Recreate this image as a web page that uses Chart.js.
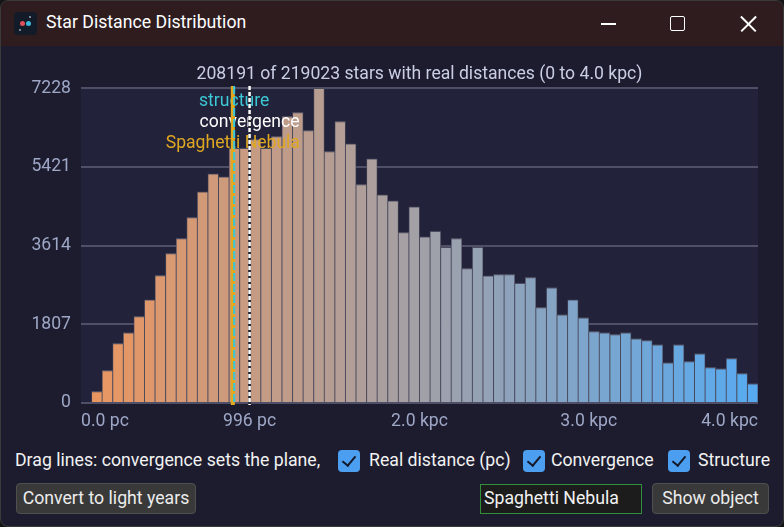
<!DOCTYPE html>
<html>
<head>
<meta charset="utf-8">
<title>Star Distance Distribution</title>
<script src="https://cdn.jsdelivr.net/npm/chart.js@4.4.0/dist/chart.umd.min.js"></script>
<style>
    html, body { margin: 0; padding: 0; background: #141414; }
    body { width: 784px; height: 527px; overflow: hidden; font-family: Roboto, "Noto Sans", sans-serif; }
    .window { position: absolute; left: 0; top: 0; width: 782px; height: 525px; border: 1px solid #3a3a3a; border-radius: 8px; background: #1d1c2e; overflow: hidden; }
    .titlebar { position: absolute; left: 0; top: 0; right: 0; height: 45px; background: #2e1c1f; }
    .app-icon { position: absolute; left: 13px; top: 11px; width: 23px; height: 23px; border-radius: 4px; background: #131a28; }
    .app-icon i { position: absolute; width: 5px; height: 5px; border-radius: 50%; }
    .win-title { position: absolute; left: 45px; top: 11px; color: #ffffff; font-size: 17.7px; }
    .cap-min { position: absolute; left: 600px; top: 22px; width: 15px; height: 1.5px; background: #fff; }
    .cap-max { position: absolute; left: 669px; top: 15px; width: 13px; height: 13px; border: 1.5px solid #fff; border-radius: 2px; }
    .cap-close { position: absolute; left: 739px; top: 14px; width: 17px; height: 17px; }
    .cap-close::before, .cap-close::after { content: ""; position: absolute; left: -2px; top: 8px; width: 21px; height: 1.5px; background: #fff; }
    .cap-close::before { transform: rotate(45deg); }
    .cap-close::after { transform: rotate(-45deg); }
    #chartBox { position: absolute; left: 0; top: 45px; width: 784px; height: 400px; }
    .row1 { position: absolute; top: 449px; left: 0; height: 22px; color: #f2f2f2; font-size: 17.7px; }
    .row1 span { position: absolute; top: 0; white-space: nowrap; }
    .check { position: absolute; top: 0; width: 22px; height: 22px; border-radius: 4px; background: #4c9ff0; }
    .check::after { content: ""; position: absolute; left: 7px; top: 3px; width: 6px; height: 11px; border: solid #14182a; border-width: 0 2px 2px 0; transform: rotate(40deg); }
    .btn { position: absolute; top: 482px; height: 31px; background: #393939; border: 1px solid #4f4f4f; border-radius: 4px; color: #ececec; font-size: 17.7px; line-height: 29px; text-align: center; box-sizing: border-box; white-space: nowrap; }
    .field { position: absolute; left: 479px; top: 483px; width: 162px; height: 30px; border: 1.5px solid #2f8f3a; background: #1c1c1c; color: #f2f2f2; font-size: 17.7px; line-height: 27px; padding-left: 3px; box-sizing: border-box; white-space: nowrap; }
</style>
</head>
<body>
<div class="window">
    <div class="titlebar">
        <div class="app-icon"><i style="left:6px;top:9px;background:#e0505a"></i><i style="left:12px;top:9px;background:#3ab8d8"></i><i style="left:15px;top:4px;width:2px;height:2px;background:#9ab"></i><i style="left:5px;top:17px;width:2px;height:2px;background:#9ab"></i></div>
        <div class="win-title">Star Distance Distribution</div>
        <div class="cap-min"></div>
        <div class="cap-max"></div>
        <div class="cap-close"></div>
    </div>
    <div id="chartBox"><canvas id="distanceChart"></canvas></div>
    <div class="row1">
        <span style="left:14px">Drag lines: convergence sets the plane,</span>
        <div class="check" style="left:337px"></div><span style="left:368px">Real distance (pc)</span>
        <div class="check" style="left:522px"></div><span style="left:550px">Convergence</span>
        <div class="check" style="left:667px"></div><span style="left:697px">Structure</span>
    </div>
    <div class="btn" style="left:15px;width:180px">Convert to light years</div>
    <div class="field">Spaghetti Nebula</div>
    <div class="btn" style="left:651px;width:117px">Show object</div>
</div>

<script>
// Histogram bins (centre of each 62.5 pc bin) and star counts
const binCentersPc = [
    31.25, 93.75, 156.25, 218.75, 281.25, 343.75, 406.25, 468.75,
    531.25, 593.75, 656.25, 718.75, 781.25, 843.75, 906.25, 968.75,
    1031.25, 1093.75, 1156.25, 1218.75, 1281.25, 1343.75, 1406.25, 1468.75,
    1531.25, 1593.75, 1656.25, 1718.75, 1781.25, 1843.75, 1906.25, 1968.75,
    2031.25, 2093.75, 2156.25, 2218.75, 2281.25, 2343.75, 2406.25, 2468.75,
    2531.25, 2593.75, 2656.25, 2718.75, 2781.25, 2843.75, 2906.25, 2968.75,
    3031.25, 3093.75, 3156.25, 3218.75, 3281.25, 3343.75, 3406.25, 3468.75,
    3531.25, 3593.75, 3656.25, 3718.75, 3781.25, 3843.75, 3906.25, 3968.75
];
const starCounts = [
    0, 268, 750, 1369, 1614, 1989, 2371, 2930,
    3435, 3779, 4261, 4850, 5263, 5194, 5852, 5852,
    6050, 5852, 6119, 6578, 6670, 6257, 7228, 5775,
    6463, 5951, 5018, 5607, 4781, 4643, 3916, 4505,
    3817, 3947, 3580, 3779, 3090, 3580, 2922, 2953,
    2953, 2754, 2884, 2195, 2647, 2027, 2371, 1958,
    1645, 1614, 1576, 1614, 1476, 1438, 1339, 926,
    1339, 956, 1132, 818, 788, 1025, 681, 444
];
const xTickValues = [0, 996, 2000, 3000, 4000];
const xTickLabels = ['0.0 pc', '996 pc', '2.0 kpc', '3.0 kpc', '4.0 kpc'];
const yTickValues = [0, 1807, 3614, 5421, 7228];

// Draggable markers (distance in pc)
const markerNames = ['Spaghetti Nebula', 'structure', 'convergence'];
const markerDistancesPc = [897, 905, 996];

const FONT = 'Roboto, "Noto Sans", sans-serif';
const FONT_SIZE = 17.6;

function barColor(index, count) {
    // orange (near) -> blue (far)
    const t = index / (count - 1);
    const from = [236, 150, 94];
    const to = [88, 170, 240];
    const c = from.map((v, k) => Math.round(v + (to[k] - v) * t));
    return `rgb(${c[0]}, ${c[1]}, ${c[2]})`;
}

const plotBackground = {
    id: 'plotBackground',
    beforeDraw(chart) {
        const { ctx, chartArea } = chart;
        ctx.save();
        ctx.fillStyle = '#22223a';
        ctx.fillRect(chartArea.left, chartArea.top, chartArea.right - chartArea.left, chartArea.bottom - chartArea.top);
        ctx.restore();
    }
};

const markerLines = {
    id: 'markerLines',
    afterDraw(chart) {
        const { ctx, chartArea, scales } = chart;
        const px = markerDistancesPc.map(v => scales.x.getPixelForValue(v));
        const top = chartArea.top - 2;
        const bottom = chartArea.bottom + 2;

        ctx.save();
        ctx.font = `${FONT_SIZE}px ${FONT}`;
        ctx.textAlign = 'center';
        ctx.textBaseline = 'middle';
        ctx.fillStyle = '#3cc8d4';
        ctx.fillText(markerNames[1], px[1], chartArea.top + 13);
        ctx.fillStyle = '#ffffff';
        ctx.fillText(markerNames[2], px[2], chartArea.top + 34);
        ctx.fillStyle = '#e0a820';
        ctx.fillText(markerNames[0], px[0], chartArea.top + 55);

        // object line
        ctx.strokeStyle = '#e2a91e';
        ctx.lineWidth = 4;
        ctx.beginPath();
        ctx.moveTo(px[0], top);
        ctx.lineTo(px[0], bottom);
        ctx.stroke();

        // structure line
        ctx.strokeStyle = '#38c6d8';
        ctx.lineWidth = 2;
        ctx.setLineDash([8, 3]);
        ctx.beginPath();
        ctx.moveTo(px[1], top);
        ctx.lineTo(px[1], bottom);
        ctx.stroke();

        // convergence line
        ctx.setLineDash([]);
        ctx.strokeStyle = '#2a2a36';
        ctx.lineWidth = 3;
        ctx.beginPath();
        ctx.moveTo(px[2], top);
        ctx.lineTo(px[2], bottom);
        ctx.stroke();
        ctx.strokeStyle = '#ffffff';
        ctx.lineWidth = 2.5;
        ctx.setLineDash([4, 2]);
        ctx.beginPath();
        ctx.moveTo(px[2], top);
        ctx.lineTo(px[2], bottom);
        ctx.stroke();
        ctx.restore();
    }
};

document.addEventListener('DOMContentLoaded', function () {
    const ctx = document.getElementById('distanceChart').getContext('2d');
    new Chart(ctx, {
        type: 'bar',
        data: {
            datasets: [{
                data: binCentersPc.map((x, i) => ({ x: x, y: starCounts[i] })),
                backgroundColor: starCounts.map((_, i) => barColor(i, starCounts.length)),
                borderColor: '#4c4c5e',
                borderWidth: { top: 1.2, left: 0.8, right: 0.8, bottom: 0 },
                borderSkipped: false,
                barPercentage: 1,
                categoryPercentage: 1
            }]
        },
        options: {
            responsive: true,
            maintainAspectRatio: false,
            animation: false,
            layout: { padding: { left: 0, right: 27, top: 0, bottom: 0 } },
            plugins: {
                legend: { display: false },
                tooltip: { enabled: false },
                title: {
                    display: true,
                    fullSize: false,
                    text: '208191 of 219023 stars with real distances (0 to 4.0 kpc)',
                    color: '#c9cee4',
                    font: { family: FONT, size: FONT_SIZE, weight: 'normal' },
                    padding: { top: 18, bottom: 3 }
                }
            },
            scales: {
                x: {
                    type: 'linear',
                    min: 0,
                    max: 4000,
                    offset: false,
                    grid: { display: false, drawTicks: false },
                    border: { display: false },
                    afterBuildTicks: scale => { scale.ticks = xTickValues.map(v => ({ value: v })); },
                    afterFit: scale => { scale.height = 43; },
                    ticks: {
                        align: 'inner',
                        maxRotation: 0,
                        autoSkip: false,
                        padding: 8,
                        color: '#9ea7c6',
                        font: { family: FONT, size: FONT_SIZE },
                        callback: (value, index) => xTickLabels[index]
                    }
                },
                y: {
                    min: 0,
                    max: 7228,
                    z: 1,
                    grid: { color: 'rgba(92, 92, 118, 0.78)', lineWidth: 2, drawTicks: false },
                    border: { display: false },
                    afterBuildTicks: scale => { scale.ticks = yTickValues.map(v => ({ value: v })); },
                    afterFit: scale => { scale.width = 80; },
                    ticks: {
                        padding: 10,
                        color: '#9ea7c6',
                        font: { family: FONT, size: FONT_SIZE },
                        callback: value => String(value)
                    }
                }
            }
        },
        plugins: [plotBackground, markerLines]
    });
});
</script>
</body>
</html>
